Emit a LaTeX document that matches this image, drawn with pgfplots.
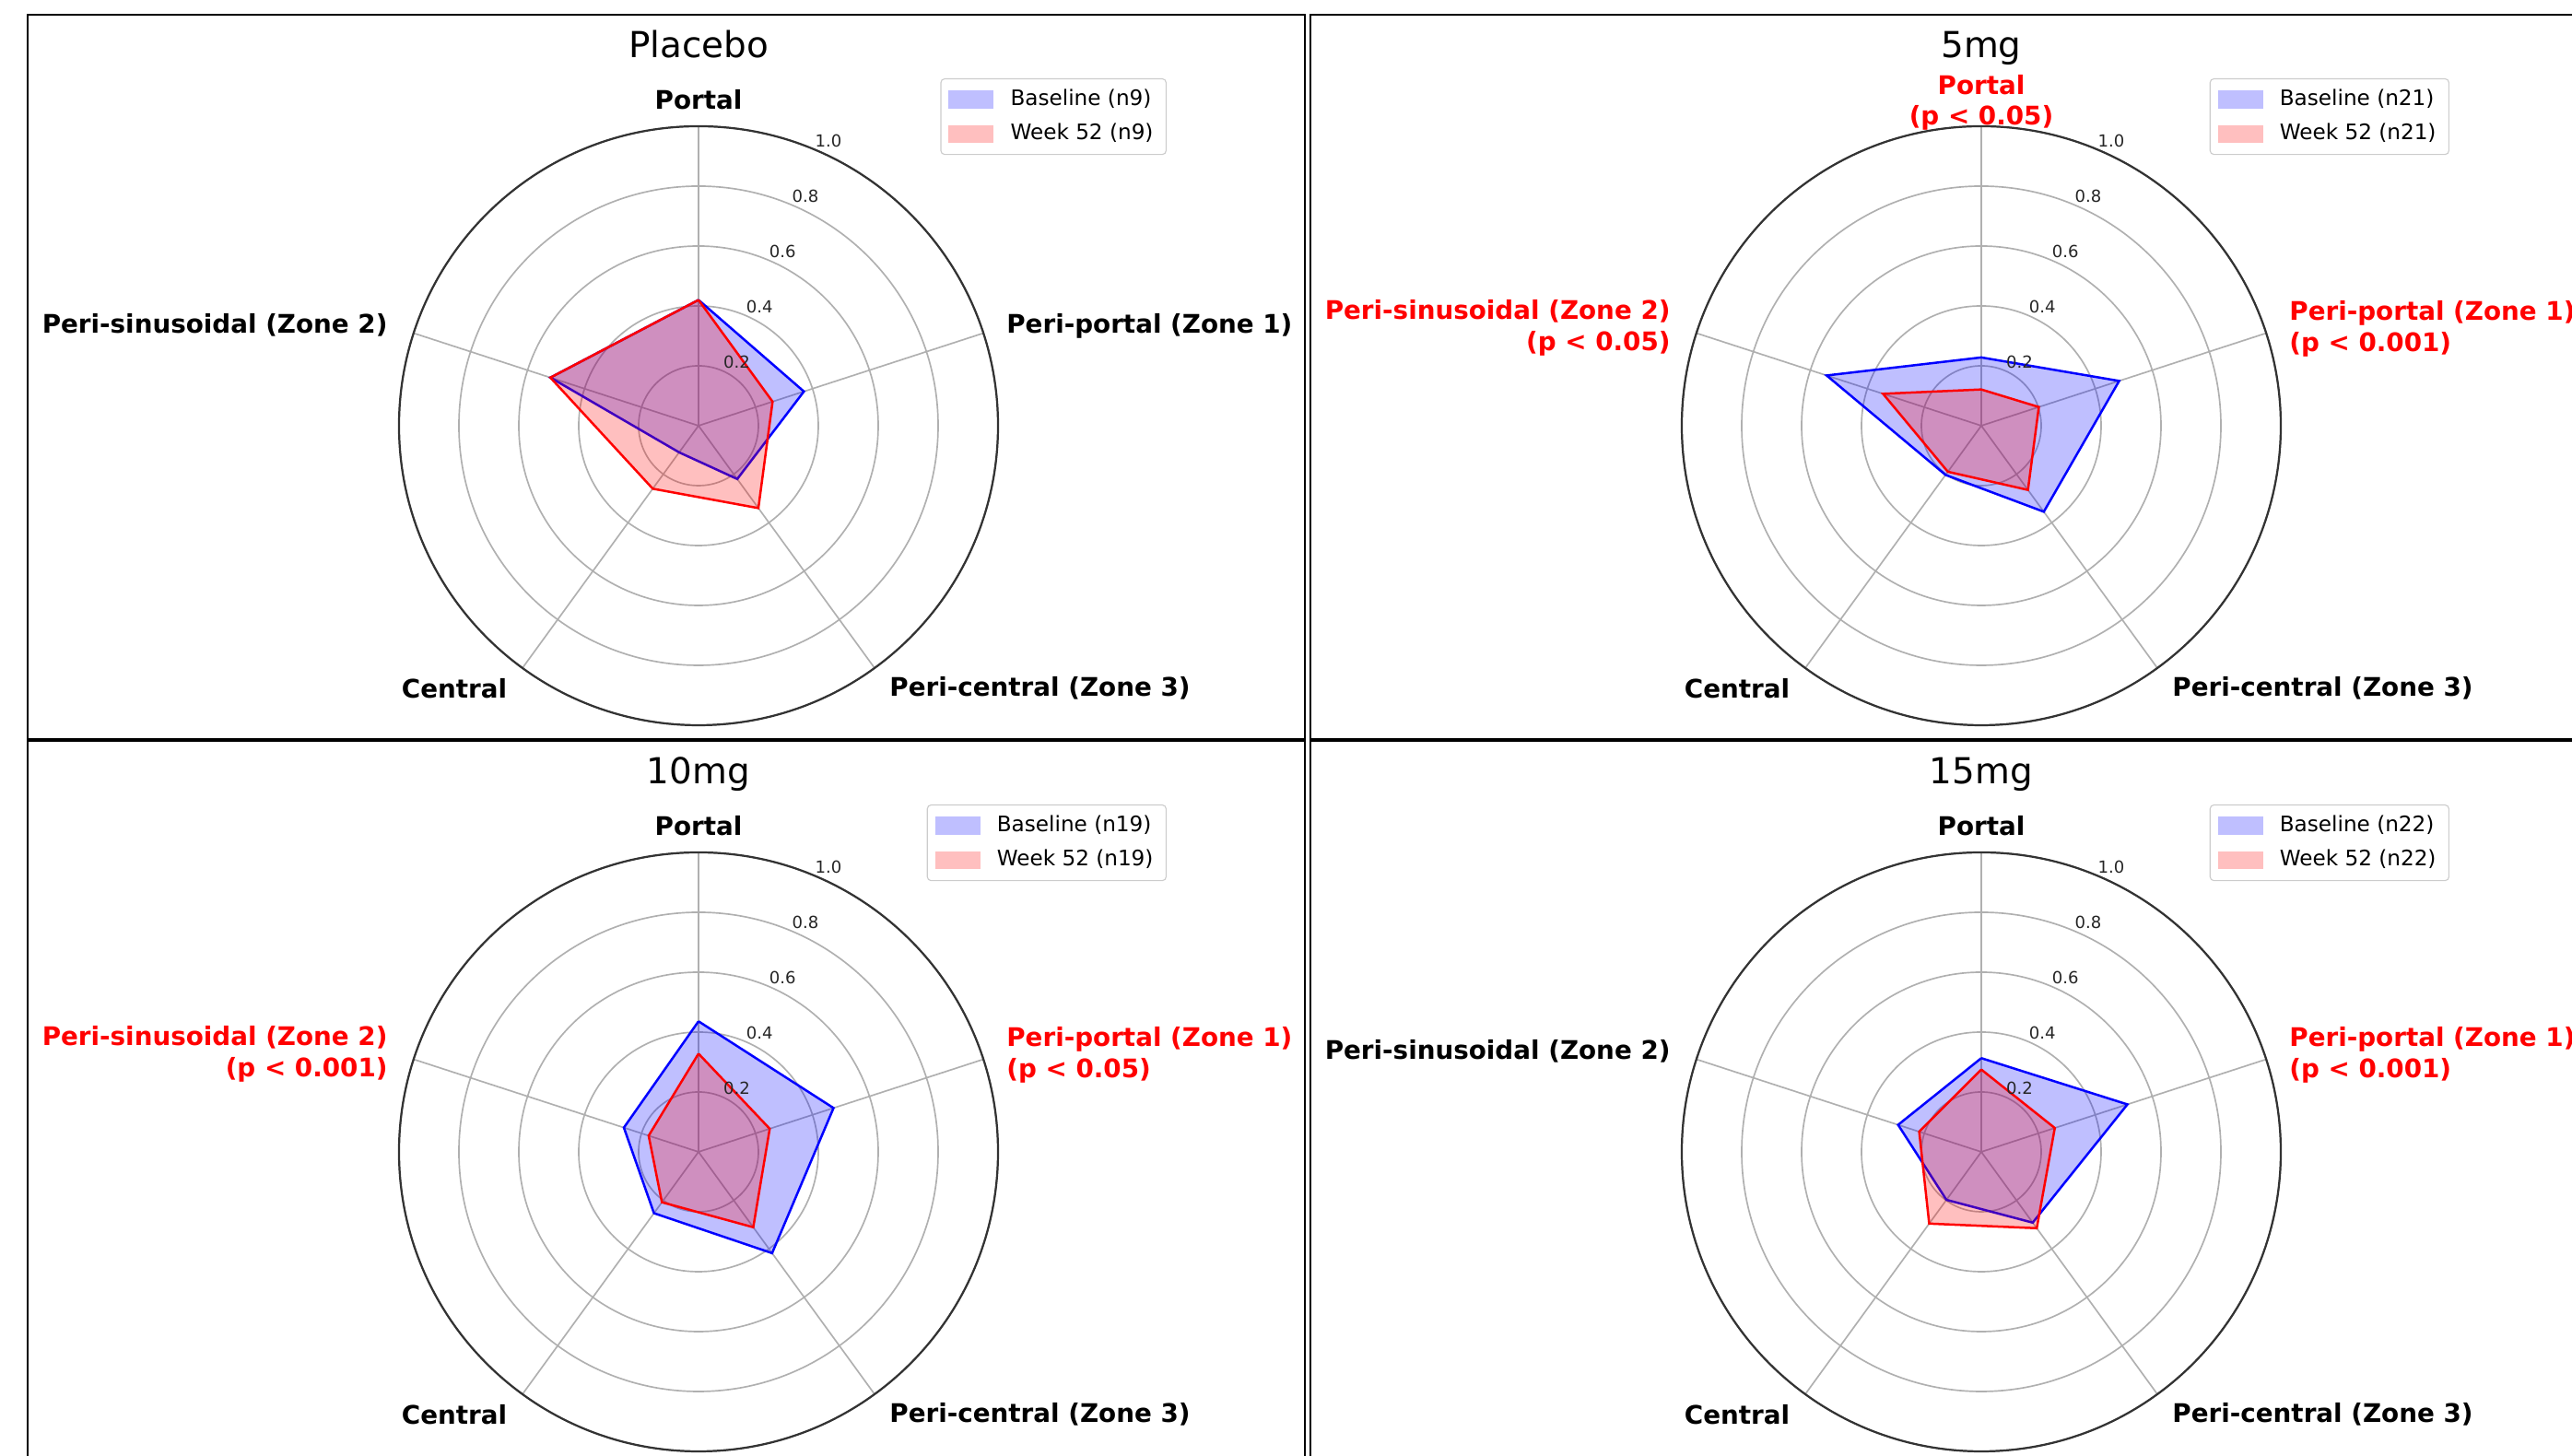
\documentclass[border=0pt]{standalone}
\usepackage{pgfplots}
\pgfplotsset{compat=1.18}
\usepgfplotslibrary{polar}
\usepackage{fontspec}
\setmainfont{DejaVu Sans}
\definecolor{gridgray}{HTML}{B0B0B0}
\pgfplotsset{
 radar/.style={
   width=234pt, height=234pt, scale only axis,
   xmin=0, xmax=360, ymin=0, ymax=1,
   xtick={90,18,306,234,162}, xticklabels={},
   ytick={0.2,0.4,0.6,0.8,1.0}, yticklabels={},
   xmajorgrids, ymajorgrids,
   major grid style={draw=gridgray, line width=0.6pt},
   major tick length=0pt,
   x axis line style={draw=black!80, line width=0.8pt},
   y axis line style={draw=none},
   clip=false,
   legend style={at={(1.2815,1.08)}, anchor=north east, draw=black!20, rounded corners=1.5pt,
     font=\fontsize{8.33}{10}\selectfont, inner xsep=3pt, inner ysep=2.2pt, row sep=1.5pt,
     /tikz/every odd column/.append style={column sep=4.5pt}},
   legend cell align=left,
 },
 base/.style={draw=blue, line width=0.9pt, fill=blue, fill opacity=0.25, forget plot},
 wk/.style={draw=red, line width=0.9pt, fill=red, fill opacity=0.25, forget plot},
 legblue/.style={legend image code/.code={\fill[blue!25, sharp corners] (0pt,-3.25pt) rectangle (17.3pt,3.25pt);}},
 legred/.style={legend image code/.code={\fill[red!25, sharp corners] (0pt,-3.25pt) rectangle (17.3pt,3.25pt);}},
}
\tikzset{
 cat/.style={font=\fontsize{10}{12}\selectfont\bfseries, inner sep=0pt},
 sig/.style={cat, text=red},
 two/.style={yshift=-1.2pt},
 rl/.style={font=\fontsize{6.5}{8}\selectfont, inner sep=0.6pt, anchor=south west, text=black!85},
 ttl/.style={font=\fontsize{14}{17}\selectfont, inner sep=0pt, anchor=base},
}
\newcommand{\rlabels}{%
 \node[rl] at (axis cs:67.5,0.2) {0.2};
 \node[rl] at (axis cs:67.5,0.4) {0.4};
 \node[rl] at (axis cs:67.5,0.6) {0.6};
 \node[rl] at (axis cs:67.5,0.8) {0.8};
 \node[rl] at (axis cs:67.5,1.0) {1.0};
}
\begin{document}
\begin{tikzpicture}
\useasboundingbox (0pt,0pt) rectangle (1004.76pt,568.8pt);
\clip (0pt,0pt) rectangle (1004.76pt,568.8pt);
% panel frames (1px = 0.36pt)
\draw[line width=1pt] (10.8pt,280.08pt) rectangle (509.76pt,563.04pt);
\draw[line width=1pt] (511.92pt,280.08pt) rectangle (1010.88pt,563.04pt);
\draw[line width=1pt] (10.8pt,-3.6pt) rectangle (509.76pt,279.36pt);
\draw[line width=1pt] (511.92pt,-3.6pt) rectangle (1010.88pt,279.36pt);

% Placebo
\begin{polaraxis}[radar, at={(272.88pt,402.48pt)}, anchor=center]
\addplot[base] coordinates {(90,0.42) (18,0.37) (306,0.22) (234,0.11) (162,0.52) (90,0.42)};
\addplot[wk] coordinates {(90,0.42) (18,0.26) (306,0.34) (234,0.26) (162,0.52) (90,0.42)};
\addlegendimage{legblue}\addlegendentry{Baseline (n9)}
\addlegendimage{legred}\addlegendentry{Week 52 (n9)}
\rlabels
\node[ttl] at (axis cs:90,1.229) {Placebo};
\node[cat, anchor=center] at (axis cs:90,1.089) {Portal};
\node[cat, anchor=west] at (axis cs:18,1.08) {Peri-portal (Zone 1)};
\node[cat, anchor=west] at (axis cs:306,1.083) {Peri-central (Zone 3)};
\node[cat, anchor=east] at (axis cs:234,1.085) {Central};
\node[cat, anchor=east] at (axis cs:162,1.09) {Peri-sinusoidal (Zone 2)};
\end{polaraxis}

% 5mg
\begin{polaraxis}[radar, at={(774pt,402.48pt)}, anchor=center]
\addplot[base] coordinates {(90,0.228) (18,0.484) (306,0.355) (234,0.203) (162,0.543) (90,0.228)};
\addplot[wk] coordinates {(90,0.121) (18,0.202) (306,0.265) (234,0.19) (162,0.345) (90,0.121)};
\addlegendimage{legblue}\addlegendentry{Baseline (n21)}
\addlegendimage{legred}\addlegendentry{Week 52 (n21)}
\rlabels
\node[ttl] at (axis cs:90,1.229) {5mg};
\node[sig, two, anchor=center, align=center] at (axis cs:90,1.089) {Portal\\(p < 0.05)};
\node[sig, two, anchor=west, align=left] at (axis cs:18,1.08) {Peri-portal (Zone 1)\\(p < 0.001)};
\node[cat, anchor=west] at (axis cs:306,1.083) {Peri-central (Zone 3)};
\node[cat, anchor=east] at (axis cs:234,1.085) {Central};
\node[sig, two, anchor=east, align=right] at (axis cs:162,1.09) {Peri-sinusoidal (Zone 2)\\(p < 0.05)};
\end{polaraxis}

% 10mg
\begin{polaraxis}[radar, at={(272.88pt,118.8pt)}, anchor=center]
\addplot[base] coordinates {(90,0.436) (18,0.474) (306,0.418) (234,0.253) (162,0.262) (90,0.436)};
\addplot[wk] coordinates {(90,0.328) (18,0.25) (306,0.311) (234,0.208) (162,0.175) (90,0.328)};
\addlegendimage{legblue}\addlegendentry{Baseline (n19)}
\addlegendimage{legred}\addlegendentry{Week 52 (n19)}
\rlabels
\node[ttl] at (axis cs:90,1.229) {10mg};
\node[cat, anchor=center] at (axis cs:90,1.089) {Portal};
\node[sig, two, anchor=west, align=left] at (axis cs:18,1.08) {Peri-portal (Zone 1)\\(p < 0.05)};
\node[cat, anchor=west] at (axis cs:306,1.083) {Peri-central (Zone 3)};
\node[cat, anchor=east] at (axis cs:234,1.085) {Central};
\node[sig, two, anchor=east, align=right] at (axis cs:162,1.09) {Peri-sinusoidal (Zone 2)\\(p < 0.001)};
\end{polaraxis}

% 15mg
\begin{polaraxis}[radar, at={(774pt,118.8pt)}, anchor=center]
\addplot[base] coordinates {(90,0.313) (18,0.513) (306,0.292) (234,0.198) (162,0.292) (90,0.313)};
\addplot[wk] coordinates {(90,0.275) (18,0.258) (306,0.315) (234,0.296) (162,0.218) (90,0.275)};
\addlegendimage{legblue}\addlegendentry{Baseline (n22)}
\addlegendimage{legred}\addlegendentry{Week 52 (n22)}
\rlabels
\node[ttl] at (axis cs:90,1.229) {15mg};
\node[cat, anchor=center] at (axis cs:90,1.089) {Portal};
\node[sig, two, anchor=west, align=left] at (axis cs:18,1.08) {Peri-portal (Zone 1)\\(p < 0.001)};
\node[cat, anchor=west] at (axis cs:306,1.083) {Peri-central (Zone 3)};
\node[cat, anchor=east] at (axis cs:234,1.085) {Central};
\node[cat, anchor=east] at (axis cs:162,1.09) {Peri-sinusoidal (Zone 2)};
\end{polaraxis}
\end{tikzpicture}
\end{document}
